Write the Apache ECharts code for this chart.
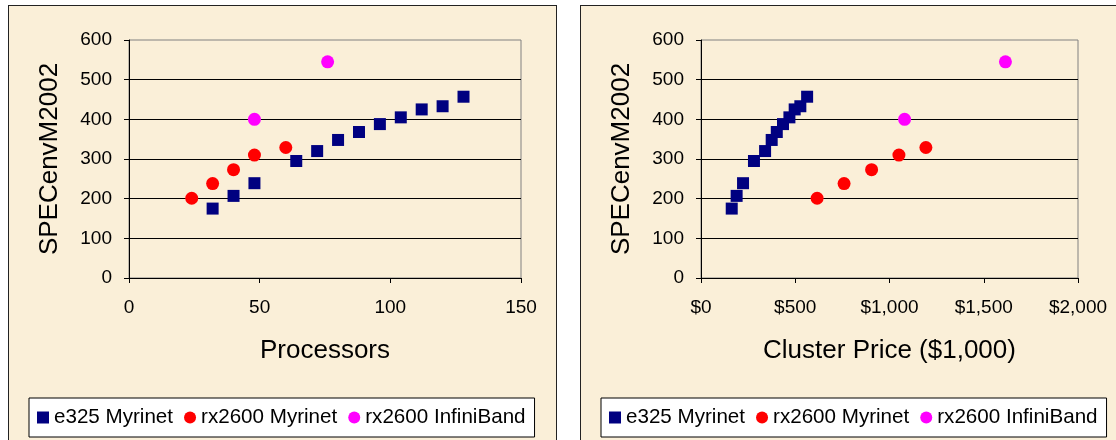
<!DOCTYPE html>
<html><head><meta charset="utf-8">
<script src="https://cdn.jsdelivr.net/npm/echarts@6/dist/echarts.min.js"></script>
<style>
html,body{margin:0;padding:0;background:#fff;width:1116px;height:440px;overflow:hidden;}
.panel{position:absolute;top:5px;height:460px;background:#FAEFD8;border:1px solid #222;box-sizing:border-box;}
#chart{position:absolute;left:0;top:0;width:1116px;height:440px;}
</style></head><body>
<div class="panel" style="left:8px;width:549px;"></div>
<div class="panel" style="left:580px;width:560px;"></div>
<div id="chart"></div>
<script>
const seriesNames = ['e325 Myrinet', 'rx2600 Myrinet', 'rx2600 InfiniBand'];
const e325Procs = [32, 40, 48, 64, 72, 80, 88, 96, 104, 112, 120, 128];
const e325Price = [163, 189, 223, 281, 340, 375, 402, 435, 469, 497, 527, 563];
const e325Spec  = [175, 207, 239, 295, 320, 348, 368, 388, 405, 425, 433, 457];
const rxMyriProcs = [24, 32, 40, 48, 60];
const rxMyriPrice = [616, 759, 905, 1050, 1193];
const rxMyriSpec  = [201, 238, 273, 310, 329];
const rxIbProcs = [48, 76];
const rxIbPrice = [1080, 1615];
const rxIbSpec  = [400, 545];
const procTicks  = ['0', '50', '100', '150'];
const priceTicks = ['$0', '$500', '$1,000', '$1,500', '$2,000'];
const specTicks  = ['0', '100', '200', '300', '400', '500', '600'];

const FONT = '"Liberation Sans", Arial, sans-serif';
const colors = ['#000080', '#FF0000', '#FF00FF'];
const symbols = ['rect', 'circle', 'circle'];
const sizes = [12, 13, 13];

function zip(xs, ys) { return xs.map((x, i) => [x, ys[i]]); }

function xAxisCfg(gi, max, interval, ticks, name) {
  return {
    gridIndex: gi, type: 'value', min: 0, max: max, interval: interval,
    name: name, nameLocation: 'middle', nameGap: 60,
    nameTextStyle: { fontFamily: FONT, fontSize: 26, color: '#000' },
    axisLine: { show: true, onZero: false, lineStyle: { color: '#000', width: 1 } },
    axisTick: { show: true, length: 5, lineStyle: { color: '#000' } },
    axisLabel: { margin: 20, fontFamily: FONT, fontSize: 19, color: '#000',
      formatter: v => ticks[Math.round(v / interval)] },
    splitLine: { show: false }
  };
}
function yAxisCfg(gi) {
  return {
    gridIndex: gi, type: 'value', min: 0, max: 600, interval: 100,
    name: 'SPECenvM2002', nameLocation: 'middle', nameGap: 66,
    nameTextStyle: { fontFamily: FONT, fontSize: 26, color: '#000' },
    axisLine: { show: true, onZero: false, lineStyle: { color: '#000', width: 1 } },
    axisTick: { show: true, length: 5, lineStyle: { color: '#000' } },
    axisLabel: { margin: 17, fontFamily: FONT, fontSize: 19, color: '#000',
      formatter: v => specTicks[Math.round(v / 100)] },
    splitLine: { show: true, showMinLine: false, showMaxLine: false, lineStyle: { color: '#000', width: 1 } }
  };
}
function legendCfg(left) {
  return {
    left: left, top: 398, orient: 'horizontal',
    data: seriesNames,
    itemWidth: 12, itemHeight: 12, itemGap: 11,
    padding: [9, 9, 9, 8],
    backgroundColor: '#fff', borderColor: '#000', borderWidth: 1,
    textStyle: { fontFamily: FONT, fontSize: 20.6, color: '#000' },
    selectedMode: false
  };
}
const xs = [[e325Procs, rxMyriProcs, rxIbProcs], [e325Price, rxMyriPrice, rxIbPrice]];
const ys = [e325Spec, rxMyriSpec, rxIbSpec];
const series = [];
for (let g = 0; g < 2; g++) {
  for (let s = 0; s < 3; s++) {
    series.push({
      type: 'scatter', name: seriesNames[s], xAxisIndex: g, yAxisIndex: g,
      data: zip(xs[g][s], ys[s]), symbol: symbols[s], symbolSize: sizes[s],
      itemStyle: { color: colors[s], opacity: 1 }, silent: true, z: 3 + s
    });
  }
}
const chart = echarts.init(document.getElementById('chart'), null, { renderer: 'canvas' });
chart.setOption({
  animation: false,
  backgroundColor: 'transparent',
  grid: [
    { left: 129, top: 40, width: 392, height: 238, show: true, borderColor: '#808080', borderWidth: 1, backgroundColor: 'transparent' },
    { left: 701, top: 40, width: 377, height: 238, show: true, borderColor: '#808080', borderWidth: 1, backgroundColor: 'transparent' }
  ],
  xAxis: [xAxisCfg(0, 150, 50, procTicks, 'Processors'), xAxisCfg(1, 2000, 500, priceTicks, 'Cluster Price ($1,000)')],
  yAxis: [yAxisCfg(0), yAxisCfg(1)],
  legend: [legendCfg(29), legendCfg(601)],
  series: series
});
</script>
</body></html>
